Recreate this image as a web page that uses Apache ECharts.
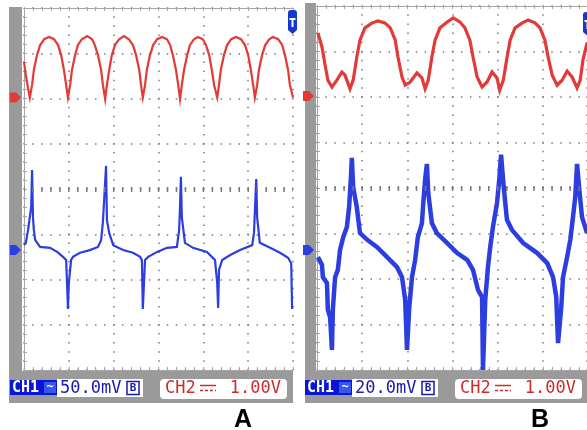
<!DOCTYPE html>
<html><head><meta charset="utf-8">
<script src="https://cdn.jsdelivr.net/npm/echarts@6/dist/echarts.min.js"></script>
<style>html,body{margin:0;padding:0;background:#fff}#c{width:587px;height:430px}</style>
</head><body><div id="c"></div>
<script>
// Values in screen divisions: [time (div), level (div)]
const redA = [[0.00,6.81],[0.04,6.52],[0.09,6.23],[0.13,6.02],
[0.18,6.30],[0.22,6.63],[0.29,6.96],[0.36,7.18],[0.45,7.31],[0.56,7.36],[0.67,7.31],[0.76,7.18],[0.83,6.96],[0.89,6.63],[0.94,6.30],[0.98,6.02],
[1.03,6.30],[1.07,6.63],[1.14,6.96],[1.20,7.18],[1.29,7.31],[1.41,7.38],[1.52,7.31],[1.58,7.18],[1.65,6.96],[1.72,6.63],[1.76,6.30],[1.81,5.99],
[1.85,6.30],[1.90,6.63],[1.96,6.96],[2.03,7.18],[2.12,7.31],[2.23,7.38],[2.34,7.31],[2.43,7.18],[2.50,6.96],[2.57,6.63],[2.61,6.30],[2.65,6.02],
[2.70,6.30],[2.74,6.63],[2.81,6.96],[2.88,7.18],[2.97,7.31],[3.08,7.36],[3.19,7.31],[3.26,7.18],[3.32,6.96],[3.39,6.63],[3.44,6.30],[3.48,5.99],
[3.52,6.30],[3.57,6.63],[3.64,6.96],[3.70,7.18],[3.79,7.31],[3.88,7.36],[3.99,7.31],[4.06,7.18],[4.13,6.96],[4.19,6.63],[4.24,6.30],[4.31,6.02],
[4.35,6.30],[4.39,6.63],[4.46,6.96],[4.53,7.18],[4.62,7.31],[4.73,7.36],[4.84,7.31],[4.93,7.18],[5.00,6.96],[5.06,6.63],[5.11,6.30],[5.15,6.02],
[5.20,6.30],[5.24,6.63],[5.31,6.96],[5.38,7.18],[5.47,7.31],[5.55,7.36],[5.67,7.31],[5.76,7.18],[5.82,6.96],[5.89,6.63],[5.93,6.30],[6.00,6.02]];

const blueA = [[0.00,2.76],[0.04,2.81],[0.09,3.09],[0.13,3.38],[0.16,3.60],[0.18,4.42],[0.20,3.38],[0.22,3.09],[0.25,2.87],[0.36,2.72],[0.58,2.70],[0.74,2.61],[0.87,2.50],[0.94,2.43],[0.96,1.92],[0.98,1.35],[1.00,1.92],[1.05,2.43],[1.09,2.50],[1.25,2.59],[1.47,2.65],[1.65,2.72],[1.72,2.87],[1.76,3.27],[1.83,4.51],[1.85,3.31],[1.90,3.03],[1.99,2.76],[2.21,2.65],[2.43,2.59],[2.59,2.50],[2.63,2.43],[2.65,1.35],[2.70,2.43],[2.77,2.50],[2.97,2.61],[3.19,2.70],[3.41,2.72],[3.46,3.09],[3.48,3.60],[3.50,4.27],[3.52,3.38],[3.59,2.81],[3.77,2.70],[4.08,2.61],[4.26,2.43],[4.31,1.92],[4.33,1.37],[4.35,2.21],[4.42,2.43],[4.60,2.54],[4.82,2.65],[5.09,2.76],[5.13,3.03],[5.18,4.22],[5.20,3.38],[5.26,2.81],[5.49,2.70],[5.71,2.59],[5.89,2.48],[5.96,2.36],[5.98,1.35]];

const redB = [[0.02,7.41],[0.11,7.10],[0.18,6.70],[0.24,6.37],[0.33,6.22],[0.44,6.37],[0.55,6.55],[0.62,6.48],[0.73,6.18],[0.80,6.37],[0.88,6.88],[0.95,7.25],[1.06,7.52],[1.22,7.63],[1.35,7.67],[1.50,7.63],[1.62,7.52],[1.73,7.25],[1.79,6.88],[1.88,6.44],[1.95,6.26],[2.06,6.33],[2.21,6.53],[2.32,6.42],[2.39,6.18],[2.46,6.37],[2.54,6.88],[2.61,7.25],[2.72,7.52],[2.88,7.65],[3.01,7.74],[3.16,7.65],[3.27,7.52],[3.38,7.25],[3.45,6.88],[3.54,6.44],[3.65,6.22],[3.76,6.33],[3.87,6.55],[3.98,6.42],[4.04,6.15],[4.12,6.37],[4.20,6.86],[4.27,7.25],[4.38,7.52],[4.54,7.63],[4.67,7.69],[4.82,7.63],[4.93,7.52],[5.04,7.25],[5.11,6.88],[5.20,6.48],[5.31,6.26],[5.42,6.37],[5.53,6.57],[5.64,6.44],[5.75,6.20],[5.82,6.37],[5.88,6.81],[5.97,7.19]];

const blueB = [[0.02,2.48],[0.11,2.31],[0.13,2.04],[0.22,1.91],[0.24,1.32],[0.29,1.16],[0.33,0.44],[0.35,1.32],[0.40,2.04],[0.46,2.20],[0.51,2.64],[0.58,2.92],[0.66,3.14],[0.71,3.58],[0.75,4.24],[0.77,4.66],[0.80,4.02],[0.88,3.58],[0.95,3.01],[1.11,2.86],[1.33,2.70],[1.55,2.48],[1.77,2.26],[1.88,2.04],[1.95,1.54],[1.99,0.44],[2.04,1.38],[2.10,2.04],[2.17,2.42],[2.23,2.92],[2.32,3.23],[2.35,3.67],[2.39,4.18],[2.43,4.53],[2.46,3.89],[2.54,3.23],[2.65,3.01],[2.88,2.79],[3.10,2.57],[3.32,2.42],[3.45,2.20],[3.56,1.76],[3.65,1.60],[3.67,0.00],[3.72,1.54],[3.78,2.26],[3.83,2.70],[3.89,3.14],[3.98,3.67],[4.03,4.18],[4.07,4.73],[4.12,4.11],[4.20,3.30],[4.31,3.08],[4.56,2.79],[4.87,2.57],[5.09,2.35],[5.22,2.04],[5.29,1.60],[5.33,0.59],[5.40,1.38],[5.44,2.04],[5.53,2.48],[5.60,2.86],[5.66,3.36],[5.71,3.80],[5.75,4.53],[5.80,3.96],[5.86,3.36],[5.93,3.14],[5.97,3.01]];

const zeroA = {ch1: 2.65, ch2: 6.02};
const zeroB = {ch1: 2.64, ch2: 6.02};
const ch1Scales = ['50.0mV', '20.0mV'];
const ch2Scales = ['1.00V', '1.00V'];
const panelNames = ['A', 'B'];

const RED = '#e23a36', BLUE = '#2c3ee0', GRIDC = '#7a7a7a', EDGE = '#a6a6a6', FRAME = '#9a9a9a';
const MONO = '"DejaVu Sans Mono", monospace';

function xAx(gi, max, pos, split, period) {
  return {type:'value', gridIndex:gi, min:0, max:max, interval:1, position:pos,
    axisLine:{show:true, onZero:false, lineStyle:{color:EDGE, width:1}},
    axisTick:{show:true, inside:true, length:3, lineStyle:{color:EDGE}},
    minorTick:{show:true, splitNumber:5, length:3, lineStyle:{color:EDGE}},
    axisLabel:{show:false},
    splitLine:{show:split, lineStyle:{color:GRIDC, width:1.5, type:[1.5, period-1.5], dashOffset:0.75}}};
}
function yAx(gi, period) {
  return {type:'value', gridIndex:gi, min:0, max:8, interval:1, position:'left',
    axisLine:{show:true, onZero:false, lineStyle:{color:EDGE, width:1}},
    axisTick:{show:true, inside:true, length:3, lineStyle:{color:EDGE}},
    minorTick:{show:true, splitNumber:5, length:3, lineStyle:{color:EDGE}},
    axisLabel:{show:false},
    splitLine:{show:true, lineStyle:{color:GRIDC, width:1.5, type:[1.5, period-1.5], dashOffset:0.75}}};
}
function centerLine(xi, yi, period) {
  return {type:'line', xAxisIndex:xi, yAxisIndex:yi, data:[], z:1, silent:true,
    markLine:{silent:true, symbol:['none','none'], label:{show:false}, animation:false,
      lineStyle:{color:GRIDC, width:5, type:[1.5, period-1.5], dashOffset:0.75, cap:'butt'},
      data:[{yAxis:4}]}};
}
function trace(xi, yi, data, color, w) {
  return {type:'line', xAxisIndex:xi, yAxisIndex:yi, data:data, showSymbol:false, symbol:'none',
    lineStyle:{color:color, width:w, join:'miter'}, z:3, animation:false, silent:true};
}

const chart = echarts.init(document.getElementById('c'), null, {renderer:'canvas'});
chart.setOption({
  animation:false,
  backgroundColor:'#ffffff',
  grid:[{left:24, top:8, width:269, height:362, show:true, backgroundColor:'#fff', borderWidth:0},
        {left:317, top:6, width:270, height:364, show:true, backgroundColor:'#fff', borderWidth:0}],
  xAxis:[xAx(0, 6, 'bottom', true, 9.05), xAx(0, 6, 'top', false, 9.05),
         xAx(1, 5.97, 'bottom', true, 9.1), xAx(1, 5.97, 'top', false, 9.1)],
  yAxis:[yAx(0, 8.97), yAx(1, 9.04)],
  series:[centerLine(0,0,8.97), centerLine(2,1,9.04),
    trace(0,0,redA,RED,2.2), trace(0,0,blueA,BLUE,2.2),
    trace(2,1,redB,RED,3.2), trace(2,1,blueB,BLUE,4.5)]
});

function marker(p, color) {
  return {type:'polygon', z:10, shape:{points:[[p[0]-14,p[1]-5],[p[0]-8,p[1]-5],[p[0]-3,p[1]],[p[0]-8,p[1]+5],[p[0]-14,p[1]+5]]}, style:{fill:color}};
}
function labels(o, scale1, scale2, name, nameX) {
  return [
    {type:'rect', shape:{x:o, y:380, width:47, height:15}, style:{fill:'#0a16d6'}},
    {type:'text', style:{text:'CH1', x:o+2, y:388, font:'bold 15px '+MONO, fill:'#fff', textVerticalAlign:'middle'}},
    {type:'rect', shape:{x:o+34, y:382, width:12, height:11}, style:{fill:'#3a56f0'}},
    {type:'text', style:{text:'~', x:o+40, y:387, font:'bold 12px '+MONO, fill:'#fff', textAlign:'center', textVerticalAlign:'middle'}},
    {type:'rect', shape:{x:o+47, y:379, width:86, height:18}, style:{fill:'#fff'}},
    {type:'text', style:{text:scale1, x:o+50, y:389, font:'17px '+MONO, fill:'#1a1ab0', textVerticalAlign:'middle'}},
    {type:'rect', shape:{x:o+117, y:381.5, width:12, height:13}, style:{fill:'#fff', stroke:'#1a1ab0', lineWidth:1.5}},
    {type:'text', style:{text:'B', x:o+123, y:388.5, font:'bold 11px '+MONO, fill:'#1a1ab0', textAlign:'center', textVerticalAlign:'middle'}},
    {type:'rect', shape:{x:o+150, y:379, width:127, height:20, r:4}, style:{fill:'#fff'}},
    {type:'text', style:{text:'CH2', x:o+155, y:389, font:'17px '+MONO, fill:'#cc2c2c', textVerticalAlign:'middle'}},
    {type:'line', shape:{x1:o+190, y1:385.5, x2:o+206, y2:385.5}, style:{stroke:'#cc2c2c', lineWidth:1.5}},
    {type:'line', shape:{x1:o+190, y1:390.5, x2:o+206, y2:390.5}, style:{stroke:'#cc2c2c', lineWidth:1.5, lineDash:[3,2]}},
    {type:'text', style:{text:scale2, x:o+271, y:389, font:'17px '+MONO, fill:'#cc2c2c', textAlign:'right', textVerticalAlign:'middle'}},
    {type:'text', style:{text:name, x:nameX, y:420, font:'bold 25px "Liberation Sans", Arial, sans-serif', fill:'#000', textAlign:'center', textVerticalAlign:'middle'}}
  ];
}
function trig(x, y) {
  return [
    {type:'rect', z:10, shape:{x:x, y:y, width:9, height:20, r:[3,3,0,0]}, style:{fill:'#1438d0'}},
    {type:'polygon', z:10, shape:{points:[[x,y+20],[x+9,y+20],[x+4.5,y+24]]}, style:{fill:'#1438d0'}},
    {type:'rect', z:11, shape:{x:x+1.5, y:y+8, width:6, height:2}, style:{fill:'#fff'}},
    {type:'rect', z:11, shape:{x:x+3.5, y:y+10, width:2, height:7}, style:{fill:'#fff'}}
  ];
}

const pA2 = chart.convertToPixel({xAxisIndex:0, yAxisIndex:0}, [0, zeroA.ch2]);
const pA1 = chart.convertToPixel({xAxisIndex:0, yAxisIndex:0}, [0, zeroA.ch1]);
const pB2 = chart.convertToPixel({xAxisIndex:2, yAxisIndex:1}, [0, zeroB.ch2]);
const pB1 = chart.convertToPixel({xAxisIndex:2, yAxisIndex:1}, [0, zeroB.ch1]);

const g = [
  {type:'rect', shape:{x:9, y:7, width:13, height:396}, style:{fill:FRAME}},
  {type:'rect', shape:{x:9, y:371, width:284, height:32}, style:{fill:FRAME}},
  {type:'rect', shape:{x:305, y:3, width:11, height:400}, style:{fill:FRAME}},
  {type:'rect', shape:{x:305, y:371, width:282, height:32}, style:{fill:FRAME}},
  marker(pA2, RED), marker(pA1, BLUE), marker(pB2, RED), marker(pB1, BLUE)
].concat(labels(10, ch1Scales[0], ch2Scales[0], panelNames[0], 243))
 .concat(labels(305, ch1Scales[1], ch2Scales[1], panelNames[1], 540))
 .concat(trig(288, 10)).concat(trig(583, 12));

chart.setOption({graphic:{elements:g}});
</script></body></html>
